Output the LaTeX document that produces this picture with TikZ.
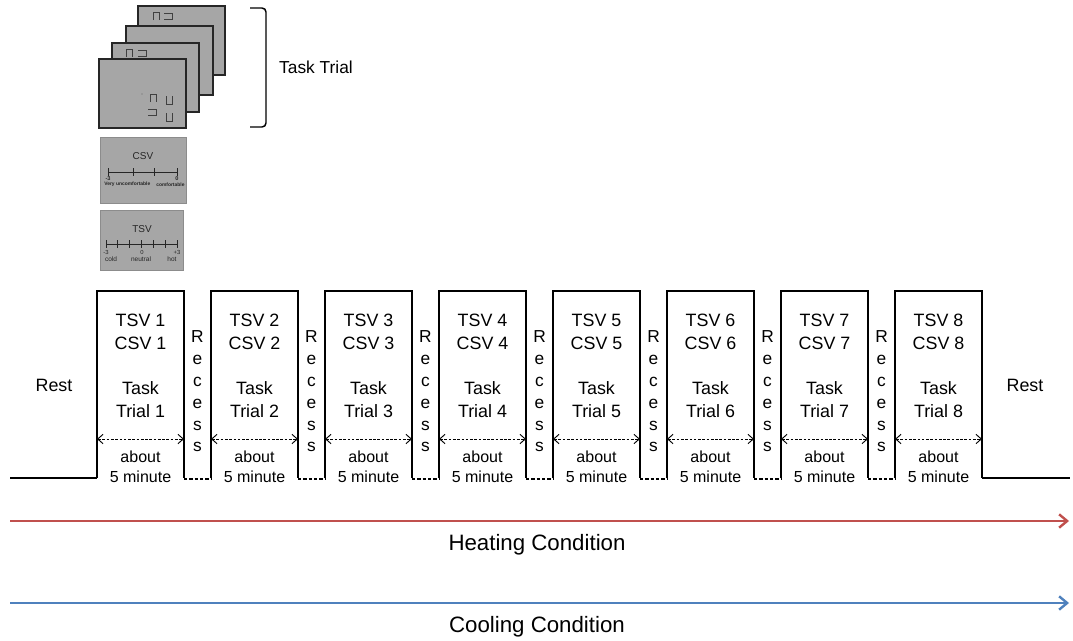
\documentclass[tikz,border=0pt]{standalone}
\usepackage{fontspec}
\setmainfont{Liberation Sans}
\usetikzlibrary{arrows.meta, positioning}
\definecolor{heatred}{RGB}{192,80,77}
\definecolor{coolblue}{RGB}{79,129,189}
\definecolor{screengray}{RGB}{166,166,166}
\newcommand{\cue}[3]{
	\draw[cue, shift={(#1,#2)}, rotate=#3] (-3,4) -- (-3,-4) -- (3,-4) -- (3,4);
}
\newcommand{\taskblock}[2]{
	\draw[wave] (#1,478) |- (#1+87,291) -- (#1+87,478);
	\node[boxtext] (trial#2) at (#1+43.5,366) {TSV #2\\CSV #2\\[17pt]Task\\Trial #2};
	\coordinate (durL#2) at (#1,439);
	\coordinate (durR#2) at (#1+87,439);
	\draw[dur] (durL#2) -- (durR#2);
	\node[abouttext] (about#2) at (#1+43.5,467) {about\\5 minute};
	\ifnum#2<8
		\draw[gap] (#1+87,479) -- (#1+114,479);
		\node[recesstext] (recess#2) at (#1+100.5,391.5) {R\\e\\c\\e\\s\\s};
	\fi
}

\begin{document}
\begin{tikzpicture}[x=0.75pt, y=-0.75pt,
	wave/.style={line width=1.5pt},
	gap/.style={line width=0.8pt, dash pattern=on 2.5pt off 1.5pt},
	dur/.style={line width=0.7pt, dash pattern=on 2pt off 1.2pt, {Straight Barb[length=4pt, width=7pt]}-{Straight Barb[length=4pt, width=7pt]}},
	boxtext/.style={align=center, inner sep=0pt, font=\fontsize{13.4}{17}\selectfont},
	recesstext/.style={align=center, inner sep=0pt, font=\fontsize{13}{16.35}\selectfont},
	abouttext/.style={align=center, inner sep=0pt, font=\fontsize{12}{15}\selectfont},
	condtext/.style={inner sep=0pt, font=\fontsize{16.7}{20}\selectfont},
	cond/.style={line width=1.8pt, -{Straight Barb[length=6pt, width=10pt]}},
	screen/.style={fill=screengray, draw=black!85, line width=0.8pt},
	panel/.style={fill=screengray, draw=black!45, line width=0.6pt},
	cue/.style={draw=black!75, line width=0.6pt},
	tiny/.style={inner sep=0pt, text=black!85}]
	\useasboundingbox (0,0) rectangle (1073,640);
	% Task trial screens
	\foreach \sx/\sy in {138/6, 126/26, 112/43, 99/59}
		\draw[screen] (\sx,\sy) rectangle ++(87,69);
	\cue{156}{16}{0}
	\cue{168}{16}{-90}
	\cue{129}{53}{0}
	\cue{142}{53}{-90}
	\cue{153}{98}{0}
	\cue{169}{100}{180}
	\cue{152}{112}{-90}
	\cue{169}{117}{180}
	\fill[black!60] (142,94) circle (0.6);
	\draw[line width=1.1pt, rounded corners=3pt] (250,8) -- (266,8) -- (266,127) -- (250,127);
	\node[inner sep=0pt, font=\fontsize{13}{15}\selectfont] (tasktrial) at (316,67) {Task Trial};
	% CSV panel
	\draw[panel] (100,137) rectangle (186,203);
	\node[tiny, font=\fontsize{7.5}{8}\selectfont] (csv) at (143,156) {CSV};
	\draw[black!85, line width=0.5pt] (108,172) -- (177,172);
	\foreach \t in {108,133,154,177}
		\draw[black!85, line width=0.5pt] (\t,168) -- (\t,176);
	\node[tiny, font=\fontsize{4.2}{4}\selectfont\bfseries] (csvlo) at (108,179) {-3};
	\node[tiny, font=\fontsize{4.2}{4}\selectfont\bfseries] (csvhi) at (177,179) {0};
	\node[tiny, anchor=west, font=\fontsize{3.7}{4}\selectfont\bfseries] (uncomf) at (104,184.5) {Very uncomfortable};
	\node[tiny, anchor=west, font=\fontsize{3.7}{4}\selectfont\bfseries] (comf) at (156,184.5) {comfortable};
	% TSV panel
	\draw[panel] (100,210) rectangle (183,270);
	\node[tiny, font=\fontsize{7.5}{8}\selectfont] (tsv) at (142,229) {TSV};
	\draw[black!85, line width=0.5pt] (106,244) -- (177,244);
	\foreach \k in {0,...,6}
		\draw[black!85, line width=0.5pt] (106+\k*11.83,240) -- (106+\k*11.83,248);
	\node[tiny, font=\fontsize{4.4}{4}\selectfont] (tsvlo) at (106,252.5) {-3};
	\node[tiny, font=\fontsize{4.4}{4}\selectfont] (tsvmid) at (142,252.5) {0};
	\node[tiny, font=\fontsize{4.4}{4}\selectfont] (tsvhi) at (177,252.5) {+3};
	\node[tiny, font=\fontsize{4.9}{5}\selectfont] (cold) at (111,259) {cold};
	\node[tiny, font=\fontsize{4.9}{5}\selectfont] (neutral) at (141,259) {neutral};
	\node[tiny, font=\fontsize{4.9}{5}\selectfont] (hot) at (172,259) {hot};
	% Timeline
	\node[boxtext] (restL) at (54,385) {Rest};
	\node[boxtext] (restR) at (1025,385) {Rest};
	\draw[wave] (10,478) -- (97,478);
	\draw[wave] (982,478) -- (1070,478);
	\foreach \i in {1,...,8} {
		\pgfmathsetmacro\bx{97+(\i-1)*114}
		\taskblock{\bx}{\i}
	}
	% Conditions
	\coordinate (heatS) at (10,521);
	\coordinate (heatE) at (1069,521);
	\draw[cond, heatred] (heatS) -- (heatE);
	\node[condtext] (heat) at (537,545) {Heating Condition};
	\coordinate (coolS) at (10,603);
	\coordinate (coolE) at (1069,603);
	\draw[cond, coolblue] (coolS) -- (coolE);
	\node[condtext] (cool) at (537,627) {Cooling Condition};
\end{tikzpicture}
\end{document}
